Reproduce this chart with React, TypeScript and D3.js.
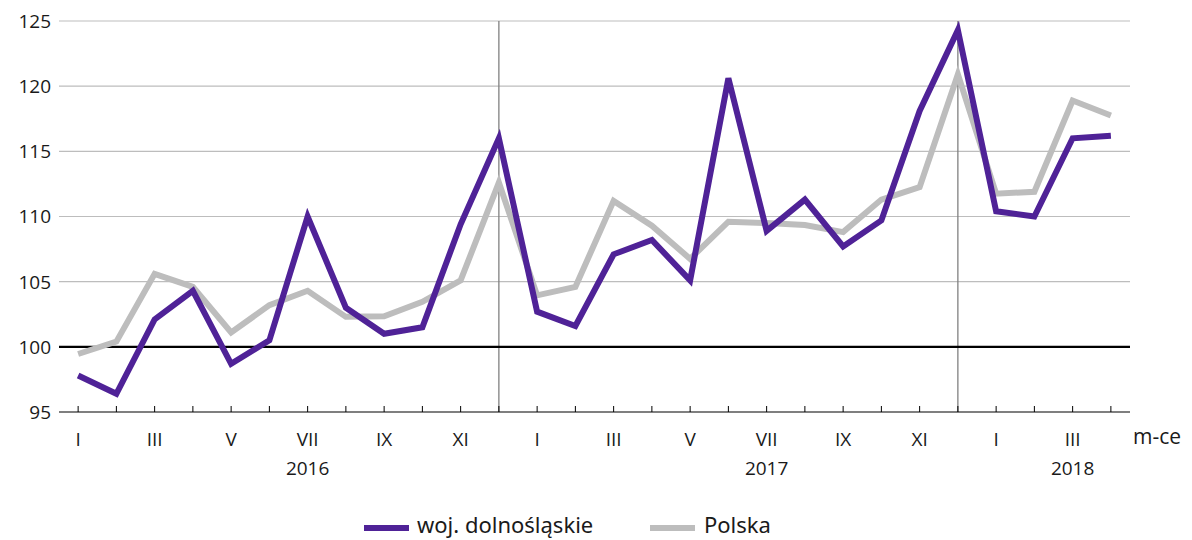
import React from "react";
import * as d3 from "d3";

const months = ["I","II","III","IV","V","VI","VII","VIII","IX","X","XI","XII",
  "I","II","III","IV","V","VI","VII","VIII","IX","X","XI","XII",
  "I","II","III","IV"];
const years = [
  { label: "2016", atIndex: 6 },
  { label: "2017", atIndex: 18 },
  { label: "2018", atIndex: 26 },
];
const dolnoslaskie = [97.8, 96.4, 102.1, 104.3, 98.7, 100.5, 110.0, 103.0, 101.0, 101.5, 109.4, 116.0,
  102.7, 101.6, 107.1, 108.2, 105.1, 120.6, 108.9, 111.3, 107.7, 109.7, 118.1, 124.3,
  110.4, 110.0, 116.0, 116.2];
const polska = [99.45, 100.4, 105.6, 104.6, 101.1, 103.2, 104.3, 102.3, 102.35, 103.45, 105.1, 112.6,
  103.95, 104.6, 111.2, 109.3, 106.75, 109.6, 109.5, 109.35, 108.8, 111.3, 112.25, 120.9,
  111.75, 111.9, 118.9, 117.75];
const yTicks = [95, 100, 105, 110, 115, 120, 125];
const separators = [11, 23];

const FONT = "'Open Sans', 'Noto Sans', sans-serif";
const LFONT = "'Noto Sans', 'Open Sans', sans-serif";

export default function App() {
  const W = 1192, H = 540;
  const x = d3.scalePoint<number>().domain(d3.range(months.length)).range([59, 1130]).padding(0.5);
  const y = d3.scaleLinear().domain([95, 125]).range([412, 21]);
  const line = d3.line<number>().x((_, i) => x(i)!).y((d) => y(d));
  return (
    <svg width={W} height={H} style={{ position: "absolute", left: 0, top: 0, background: "#fff" }}>
      {yTicks.map((t) => (
        <g key={t}>
          {t !== 95 && t !== 100 && (
            <line x1={59} x2={1130} y1={y(t)} y2={y(t)} stroke="#bdbdbd" strokeWidth={1.2} />
          )}
          <text x={51} y={y(t)} dy="0.36em" textAnchor="end" fontFamily={FONT} fontSize={19} fill="#1a1a1a">
            {t}
          </text>
        </g>
      ))}
      {separators.map((i) => (
        <line key={i} x1={x(i)} x2={x(i)} y1={y(125)} y2={y(95)} stroke="#808080" strokeWidth={1.3} />
      ))}
      <line x1={59} x2={1130} y1={y(100)} y2={y(100)} stroke="#000" strokeWidth={2.2} />
      <line x1={59} x2={1130} y1={y(95)} y2={y(95)} stroke="#000" strokeWidth={1.2} />
      {months.map((_, i) => (
        <line key={i} x1={x(i)} x2={x(i)} y1={y(95) - 6} y2={y(95)} stroke="#000" strokeWidth={1} />
      ))}
      {months.map((m, i) =>
        i % 2 === 0 ? (
          <text key={i} x={x(i)} y={446} textAnchor="middle" fontFamily={FONT} fontSize={19} fill="#1a1a1a">
            {m}
          </text>
        ) : null
      )}
      {years.map((yy) => (
        <text key={yy.label} x={x(yy.atIndex)} y={475} textAnchor="middle" fontFamily={FONT} fontSize={19} fill="#1a1a1a">
          {yy.label}
        </text>
      ))}
      <text x={1133} y={444} fontFamily={FONT} fontSize={21} fill="#1a1a1a">m-ce</text>
      <path d={line(polska)!} fill="none" stroke="#bdbdbd" strokeWidth={6} strokeLinejoin="miter" />
      <path d={line(dolnoslaskie)!} fill="none" stroke="#4f2297" strokeWidth={6} strokeLinejoin="miter" />
      <line x1={364} x2={409} y1={528} y2={528} stroke="#4f2297" strokeWidth={6} />
      <text x={417} y={533} fontFamily={LFONT} fontSize={22} fill="#1a1a1a">woj. dolnośląskie</text>
      <line x1={650} x2={695} y1={528} y2={528} stroke="#bdbdbd" strokeWidth={6} />
      <text x={704} y={533} fontFamily={LFONT} fontSize={22} fill="#1a1a1a">Polska</text>
    </svg>
  );
}
